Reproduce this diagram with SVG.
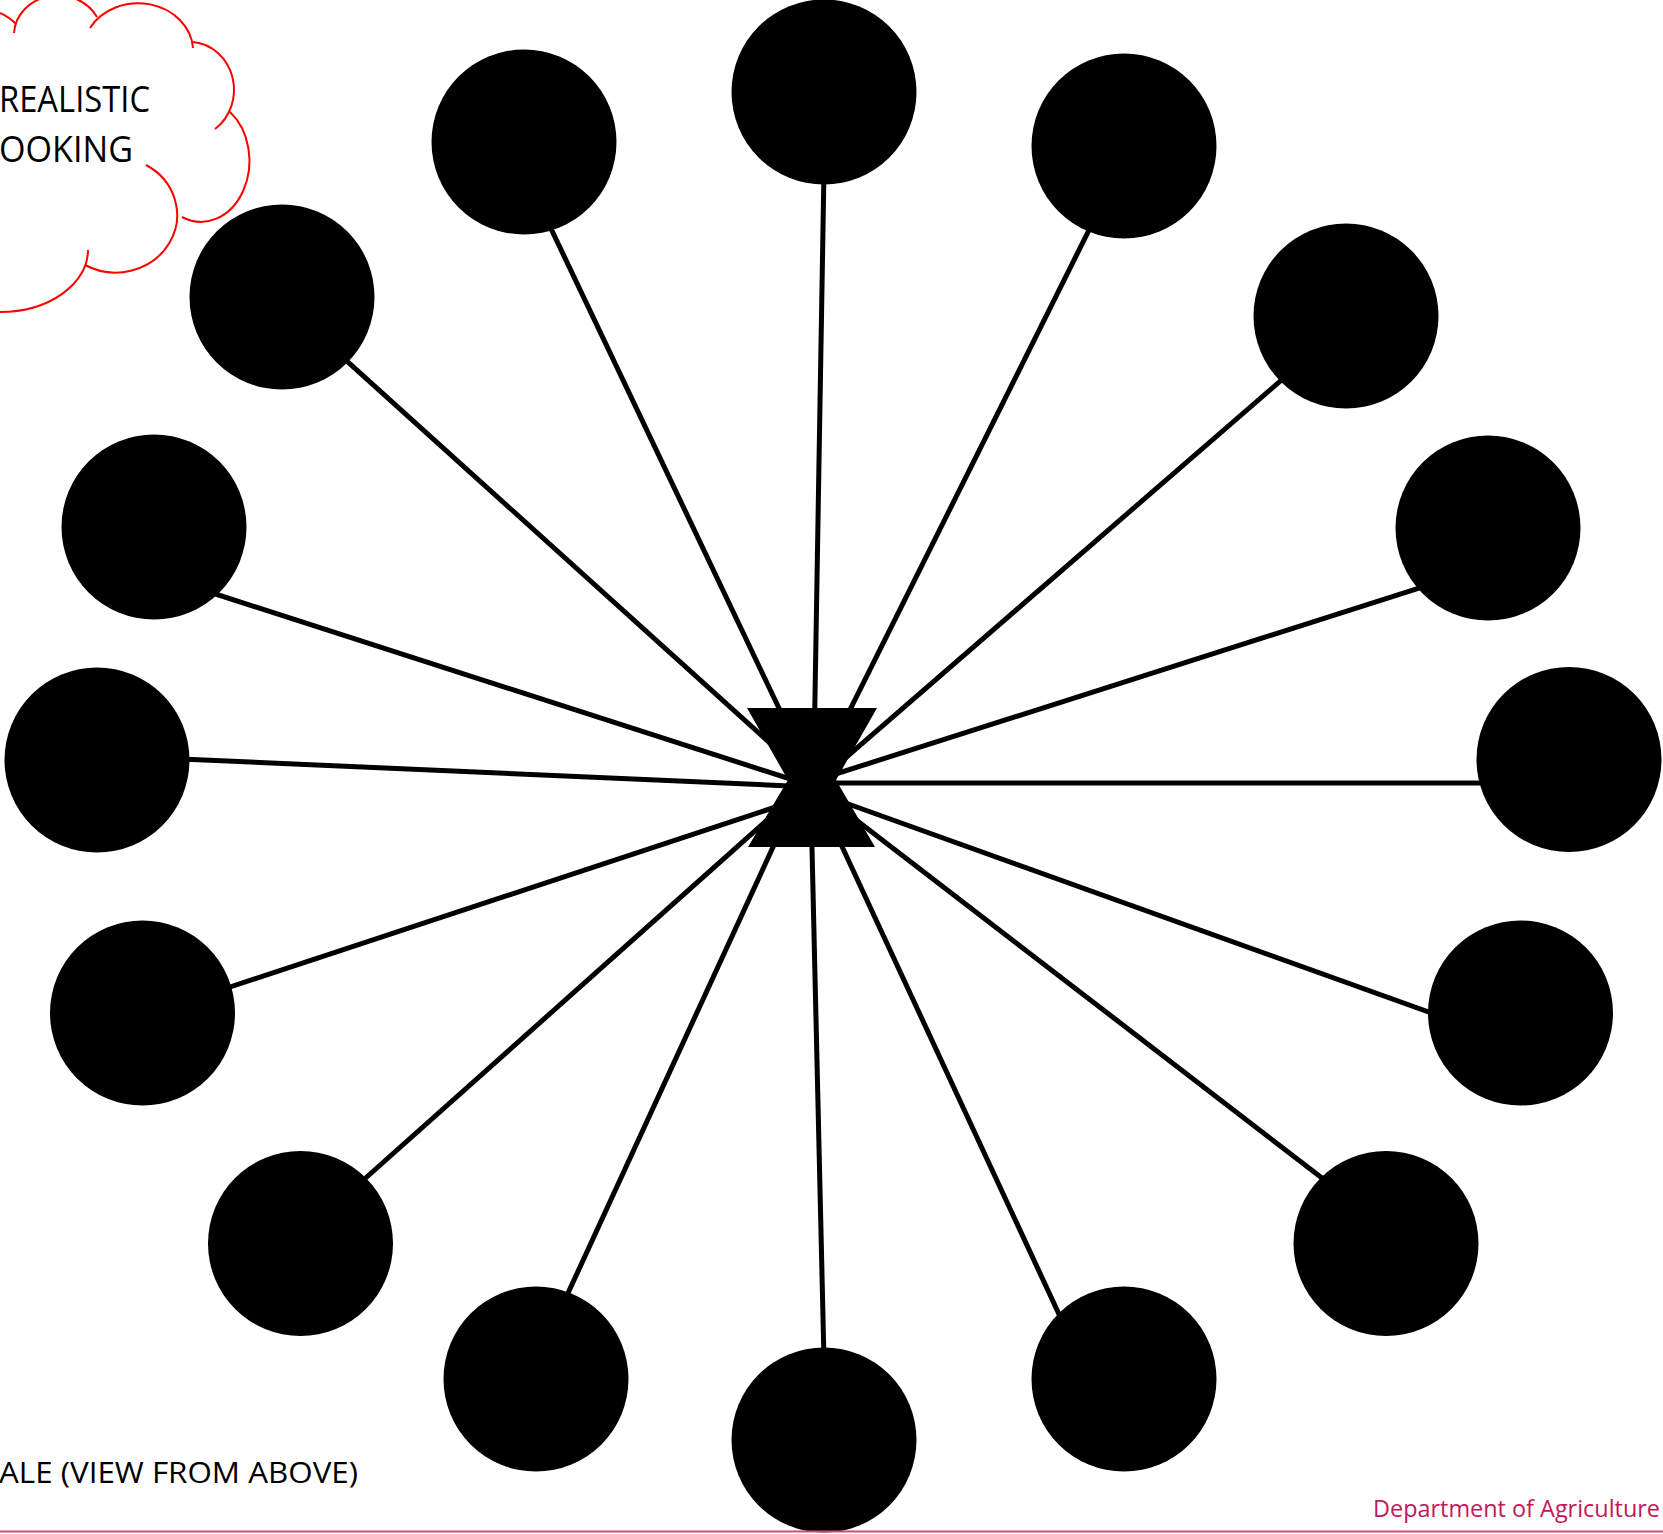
<svg xmlns="http://www.w3.org/2000/svg" width="1663" height="1534" viewBox="0 0 1663 1534">
<style>
.node{fill:#000}
.conn line{stroke:#000;stroke-width:5}
.cloud{fill:none;stroke:#ff0000;stroke-width:2}
.lbl{font-family:"Open Sans","Liberation Sans",sans-serif;fill:#000}
.dept{font-family:"Open Sans","Liberation Sans",sans-serif;fill:#c2185b}
</style>
<rect width="1663" height="1534" fill="#fff"/>
<g id="cloud">
<path class="cloud" d="M0,13 Q9,17 16,24"/>
<path class="cloud" d="M14,33 A44 40 0 0 1 97,17"/>
<path class="cloud" d="M90,28 A55 48 0 0 1 193,48"/>
<path class="cloud" d="M193,42 A45 48 0 0 1 215,129"/>
<path class="cloud" d="M230,112 A48.5 61 0 0 1 182,217"/>
<path class="cloud" d="M146,165 A60 56 0 0 1 85,265"/>
<path class="cloud" d="M88,250 A88 62 0 0 1 0,312"/>
<text class="lbl" x="-1" y="112" font-size="36" textLength="151" lengthAdjust="spacingAndGlyphs">REALISTIC</text>
<text class="lbl" x="-1" y="162" font-size="36" textLength="134" lengthAdjust="spacingAndGlyphs">OOKING</text>
</g>
<g id="connectors" class="conn">
<line x1="824" y1="170" x2="813.5" y2="784"/>
<line x1="545" y1="216" x2="815" y2="784"/>
<line x1="1096" y1="216" x2="813" y2="784"/>
<line x1="340" y1="354.8" x2="812" y2="781"/>
<line x1="1290" y1="372.6" x2="812" y2="787"/>
<line x1="200" y1="589" x2="812" y2="786"/>
<line x1="1430" y1="584.6" x2="812" y2="781.5"/>
<line x1="175" y1="758.7" x2="812" y2="787"/>
<line x1="1490" y1="783" x2="812" y2="783"/>
<line x1="215" y1="992" x2="812" y2="795"/>
<line x1="1440" y1="1016" x2="812" y2="791"/>
<line x1="355" y1="1187.5" x2="812" y2="780"/>
<line x1="1335" y1="1188" x2="812" y2="786"/>
<line x1="563" y1="1304" x2="802" y2="784"/>
<line x1="1064" y1="1325" x2="813" y2="784"/>
<line x1="824" y1="1360" x2="810.5" y2="784"/>
</g>
<g id="hub"><polygon class="node" points="747,708 877,708 836,780 875,847 748,847 788,780"/></g>
<g id="n1"><circle class="node" cx="824" cy="92" r="92.5"/></g>
<g id="n2"><circle class="node" cx="524" cy="142" r="92.5"/></g>
<g id="n3"><circle class="node" cx="1124" cy="146" r="92.5"/></g>
<g id="n4"><circle class="node" cx="282" cy="297" r="92.5"/></g>
<g id="n5"><circle class="node" cx="1346" cy="316" r="92.5"/></g>
<g id="n6"><circle class="node" cx="154" cy="527" r="92.5"/></g>
<g id="n7"><circle class="node" cx="1488" cy="528" r="92.5"/></g>
<g id="n8"><circle class="node" cx="97" cy="760" r="92.5"/></g>
<g id="n9"><circle class="node" cx="1569" cy="759.5" r="92.5"/></g>
<g id="n10"><circle class="node" cx="142.5" cy="1013" r="92.5"/></g>
<g id="n11"><circle class="node" cx="1520.5" cy="1013" r="92.5"/></g>
<g id="n12"><circle class="node" cx="300.5" cy="1243.5" r="92.5"/></g>
<g id="n13"><circle class="node" cx="1386" cy="1243.5" r="92.5"/></g>
<g id="n14"><circle class="node" cx="536" cy="1379" r="92.5"/></g>
<g id="n15"><circle class="node" cx="1124" cy="1379" r="92.5"/></g>
<g id="n16"><circle class="node" cx="824" cy="1440" r="92.5"/></g>
<text class="lbl" x="-1" y="1483" font-size="30" textLength="359" lengthAdjust="spacingAndGlyphs">ALE (VIEW FROM ABOVE)</text>
<text class="dept" x="1373" y="1517" font-size="23" textLength="287" lengthAdjust="spacingAndGlyphs">Department of Agriculture</text>
<line x1="0" y1="1531.5" x2="1663" y2="1531.5" stroke="#d04a7c" stroke-width="2"/>
</svg>
